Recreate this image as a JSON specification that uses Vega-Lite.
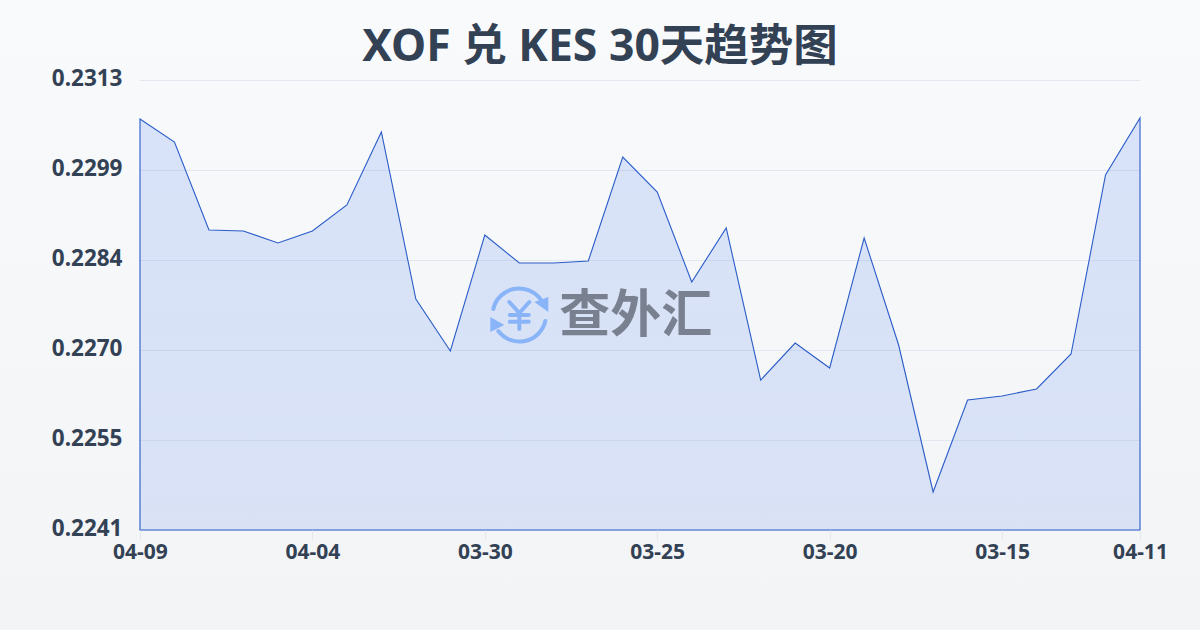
{
"$schema":"https://vega.github.io/schema/vega-lite/v6.json",
"width":1000,"height":450,
"autosize":{"type":"none"},
"padding":{"left":140,"top":80,"right":60,"bottom":100},
"background":"#f5f7fa",
"title":{"text":"XOF 兑 KES 30天趋势图","font":"Noto Sans, Noto Sans CJK SC","fontSize":44.5,"fontWeight":"bold","color":"#334155","anchor":"middle","dx":-40,"offset":0,"dy":70},
"config":{"view":{"stroke":null},"font":"Noto Sans"},
"datasets":{
"series":[
{"date":"04-09","rate":0.230676},{"date":"04-08","rate":0.230308},{"date":"04-07","rate":0.2289},{"date":"04-06","rate":0.228884},{"date":"04-05","rate":0.228692},
{"date":"04-04","rate":0.228884},{"date":"04-03","rate":0.2293},{"date":"04-02","rate":0.230468},{"date":"04-01","rate":0.227796},{"date":"03-31","rate":0.226964},
{"date":"03-30","rate":0.22882},{"date":"03-29","rate":0.228372},{"date":"03-28","rate":0.228372},{"date":"03-27","rate":0.228404},{"date":"03-26","rate":0.230068},
{"date":"03-25","rate":0.229508},{"date":"03-24","rate":0.228068},{"date":"03-23","rate":0.228932},{"date":"03-22","rate":0.2265},{"date":"03-21","rate":0.227092},
{"date":"03-20","rate":0.226692},{"date":"03-19","rate":0.228772},{"date":"03-18","rate":0.22706},{"date":"03-17","rate":0.224708},{"date":"03-16","rate":0.22618},
{"date":"03-15","rate":0.226244},{"date":"03-14","rate":0.226356},{"date":"03-13","rate":0.226916},{"date":"03-12","rate":0.22978},{"date":"04-11","rate":0.230692}
],
"corner":[{"date":"04-09","rate":0.2313}],
"gridlines":[{"rate":0.2241},{"rate":0.22554},{"rate":0.22698},{"rate":0.22842},{"rate":0.22986},{"rate":0.2313}],
"icon":[{"date":"03-29","rate":0.22754}],
"brand":[{"date":"03-26","rate":0.22754,"label":"查外汇"}]
},
"data":{"name":"series"},
"encoding":{
"x":{"field":"date","type":"ordinal","sort":null,"scale":{"type":"point","padding":0,"range":[-0.01,1000.01]},
"axis":{"title":null,"values":["04-09","04-04","03-30","03-25","03-20","03-15","04-11"],"labelAngle":0,"labelFont":"Noto Sans","labelFontSize":21,"labelFontWeight":"bold","labelColor":"#334155","labelPadding":1,"labelOverlap":false,"labelBound":false,"labelFlush":false,"tickColor":"#e2e8f0","tickSize":10,"domain":false,"grid":false,"zindex":1}},
"y":{"field":"rate","type":"quantitative","scale":{"domain":[0.2241,0.2313],"nice":false,"zero":false},
"axis":{"title":null,"values":[0.2241,0.22554,0.22698,0.22842,0.22986,0.2313],"format":".4f","labelFont":"Noto Sans","labelFontSize":22.5,"labelFontWeight":"bold","labelColor":"#334155","labelPadding":18,"labelOffset":-1.5,"tickSize":0,"domain":false,"grid":false,"zindex":1}}
},
"layer":[
{"data":{"name":"corner"},"mark":{"type":"point","size":4,"filled":true,"opacity":1,"strokeWidth":0,"fill":{"gradient":"linear","x1":0,"y1":0,"x2":0,"y2":1,"stops":[{"offset":0,"color":"#f8fafc"},{"offset":1,"color":"#f3f4f6"}]},"shape":"M-140,-80H1060V550H-140Z"}},
{"data":{"name":"gridlines"},"mark":{"type":"rule","color":"#e2e8f0","strokeWidth":1,"yOffset":0.5},"encoding":{"x":{"value":0},"x2":{"value":1000},"y":{"field":"rate","type":"quantitative"}}},
{"mark":{"type":"area","stroke":"#2a5cc8","strokeWidth":1.1,"fill":{"gradient":"linear","x1":0,"y1":0,"x2":0,"y2":1,"stops":[{"offset":0,"color":"rgba(37,99,235,0.15)"},{"offset":1,"color":"rgba(37,99,235,0.13)"}]}},"encoding":{"y2":{"datum":0.2241}}},
{"data":{"name":"icon"},"mark":{"type":"point","size":4,"filled":false,"opacity":1,"stroke":"#8ab4f8","strokeWidth":4,"strokeCap":"round","strokeJoin":"round","shape":"M-26,-6A26.5,26.5,0,0,1,21,-16M26,6A26.5,26.5,0,0,1,-21,16M-10,-13L0,-2L10,-13M0,-2L0,14M-9.5,0L9.5,0M-9.5,6.7L9.5,6.7"}},
{"data":{"name":"icon"},"mark":{"type":"point","size":4,"filled":true,"opacity":1,"fill":"#8ab4f8","strokeWidth":0,"shape":"M29,-18L29,-3L15,-13ZM-29,2L-29,17L-15,10Z"}},
{"data":{"name":"brand"},"mark":{"type":"text","font":"Noto Sans CJK SC","fontWeight":"bold","fontSize":51,"fill":"#79808f","align":"center","baseline":"middle","dx":13,"dy":2},"encoding":{"text":{"field":"label"}}}
]
}
